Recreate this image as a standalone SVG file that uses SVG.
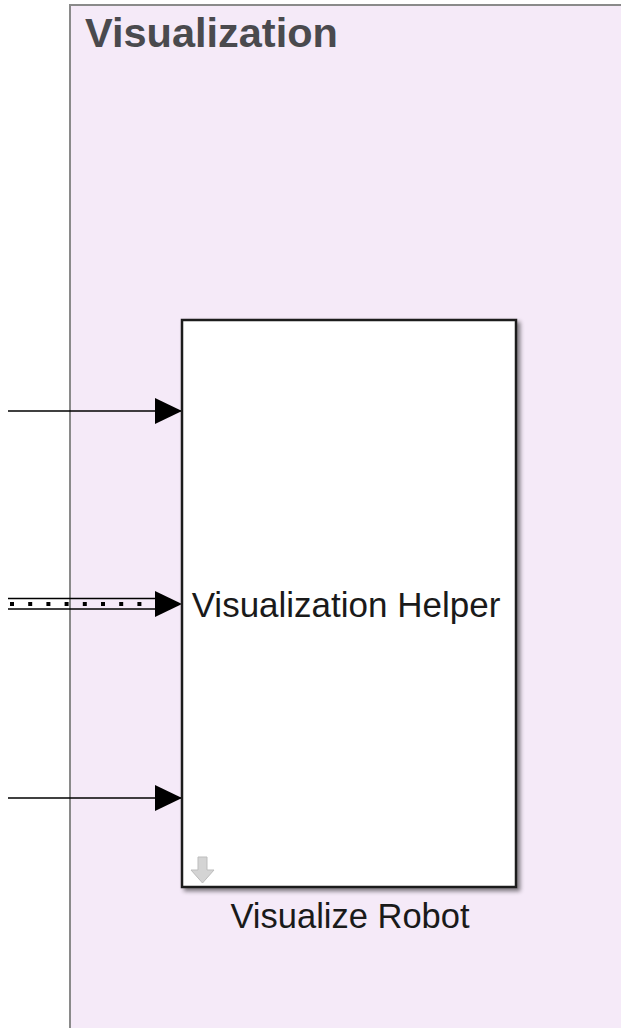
<svg xmlns="http://www.w3.org/2000/svg" width="621" height="1028" viewBox="0 0 621 1028">
<defs>
<style>
.area{fill:#f5eaf8;stroke:#8a8a8a;stroke-width:2}
.blk{fill:#ffffff;stroke:#1a1a1a;stroke-width:2.5}
.sig{stroke:#000;stroke-width:1.5;fill:none}
.lbl{font-family:"Liberation Sans",Arial,sans-serif;fill:#1a1a1a}
</style>
<marker id="ah" markerWidth="28" markerHeight="26" refX="27" refY="13" orient="auto" markerUnits="userSpaceOnUse">
<path d="M0,0 L27,13 L0,26 Z" fill="#000"/>
</marker>
<filter id="sh" x="-10%" y="-10%" width="130%" height="130%">
<feGaussianBlur in="SourceAlpha" stdDeviation="2"/>
<feOffset dx="3" dy="3"/>
<feComponentTransfer><feFuncA type="linear" slope="0.5"/></feComponentTransfer>
<feMerge><feMergeNode/><feMergeNode in="SourceGraphic"/></feMerge>
</filter>
</defs>
<rect width="621" height="1028" fill="#ffffff"/>
<g id="area-visualization">
<rect class="area" x="70" y="5" width="570" height="1040"/>
<text x="85" y="47" font-family="'Liberation Sans',Arial,sans-serif" font-weight="bold" font-size="41.5" fill="#4a4a4e">Visualization</text>
</g>
<g id="connectors">
<line class="sig" x1="8" y1="411" x2="182" y2="411" marker-end="url(#ah)"/>
<g id="bus">
<line x1="8" y1="598.5" x2="156" y2="598.5" stroke="#000" stroke-width="1.5"/>
<line x1="8" y1="609" x2="156" y2="609" stroke="#000" stroke-width="1.5"/>
<line x1="10" y1="604" x2="156" y2="604" stroke="#000" stroke-width="4" stroke-dasharray="4,14.2"/>
<path d="M155,591 L182,604 L155,617 Z" fill="#000"/>
</g>
<line class="sig" x1="8" y1="798" x2="182" y2="798" marker-end="url(#ah)"/>
</g>
<g id="visualize-robot">
<rect class="blk" x="182" y="320" width="334" height="567" filter="url(#sh)"/>
<text class="lbl" x="346" y="617" font-size="35" text-anchor="middle">Visualization Helper</text>
<path d="M198,857 L207,857 L207,870 L214,870 L202.5,883 L191,870 L198,870 Z" fill="#d4d4d4" stroke="#bdbdbd" stroke-width="1"/>
<text class="lbl" x="350" y="928" font-size="34.5" text-anchor="middle">Visualize Robot</text>
</g>
</svg>
